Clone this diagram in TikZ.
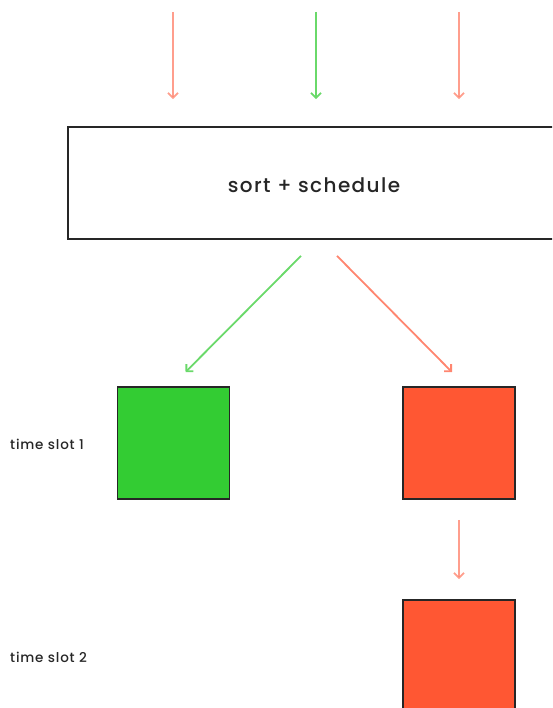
\documentclass[tikz,border=0pt]{standalone}
\usepackage{fontspec}
\setmainfont{Poppins}[BoldFont={Poppins Medium}]
\newfontfamily\boxfont{Poppins Medium}[LetterSpace=7]
\newfontfamily\slotfont{Poppins Medium}[LetterSpace=6]
\usetikzlibrary{arrows.meta, positioning}

\definecolor{slotgreen}{HTML}{33CC33}
\definecolor{slotred}{HTML}{FF5733}
\definecolor{arrgreen}{HTML}{6AD96A}
\definecolor{arrred}{HTML}{FF8670}

\tikzset{
    flow/.style={line width=1.8pt, -{Straight Barb[length=5pt,width=10pt,line width=1.8pt]}},
    redflow/.style={flow, draw=arrred},
    greenflow/.style={flow, draw=arrgreen},
    slot/.style={draw=black!85, line width=1.8pt, minimum width=112pt, minimum height=112pt, inner sep=0pt},
    slotlabel/.style={font=\slotfont\fontsize{13.5}{16}\selectfont, text=black!85, anchor=west, inner sep=0pt}
}

\begin{document}
\begin{tikzpicture}[x=1pt, y=-1pt]
    \useasboundingbox (0,0) rectangle (552,708);
    \begin{scope}
    \clip (0,0) rectangle (552,708);

    % scheduler box, runs off the right edge
    \node[draw=black!85, line width=1.8pt, minimum width=492pt, minimum height=112pt] (sort) at (314,183) {};
    \node[font=\boxfont\fontsize{20}{24}\selectfont, text=black!85] (sortlabel) at (314,185) {sort + schedule};

    % incoming jobs
    \coordinate (in1) at (173,12);
    \coordinate (in2) at (316,12);
    \coordinate (in3) at (459,12);
    \draw[redflow, draw opacity=.8] (in1) -- ([yshift=27]in1 |- sort.north);
    \draw[greenflow] (in2) -- ([yshift=27]in2 |- sort.north);
    \draw[redflow, draw opacity=.8] (in3) -- ([yshift=27]in3 |- sort.north);

    % time slots
    \node[slot, fill=slotgreen] (g1) at (173.5,443) {};
    \node[slot, fill=slotred] (r1) at (459,443) {};
    \node[slot, fill=slotred] (r2) at (459,656) {};

    \node[slotlabel] (t1) at (10,444) {time slot 1};
    \node[slotlabel] (t2) at (10,657) {time slot 2};

    \draw[greenflow] ([xshift=-13,yshift=-16]sort.south) -- ([xshift=12,yshift=14]g1.north);
    \draw[redflow] ([xshift=23,yshift=-16]sort.south) -- ([xshift=-7,yshift=14]r1.north);
    \draw[redflow, draw opacity=.8] ([yshift=-20]r1.south) -- ([yshift=20]r2.north);
    \end{scope}
\end{tikzpicture}
\end{document}
